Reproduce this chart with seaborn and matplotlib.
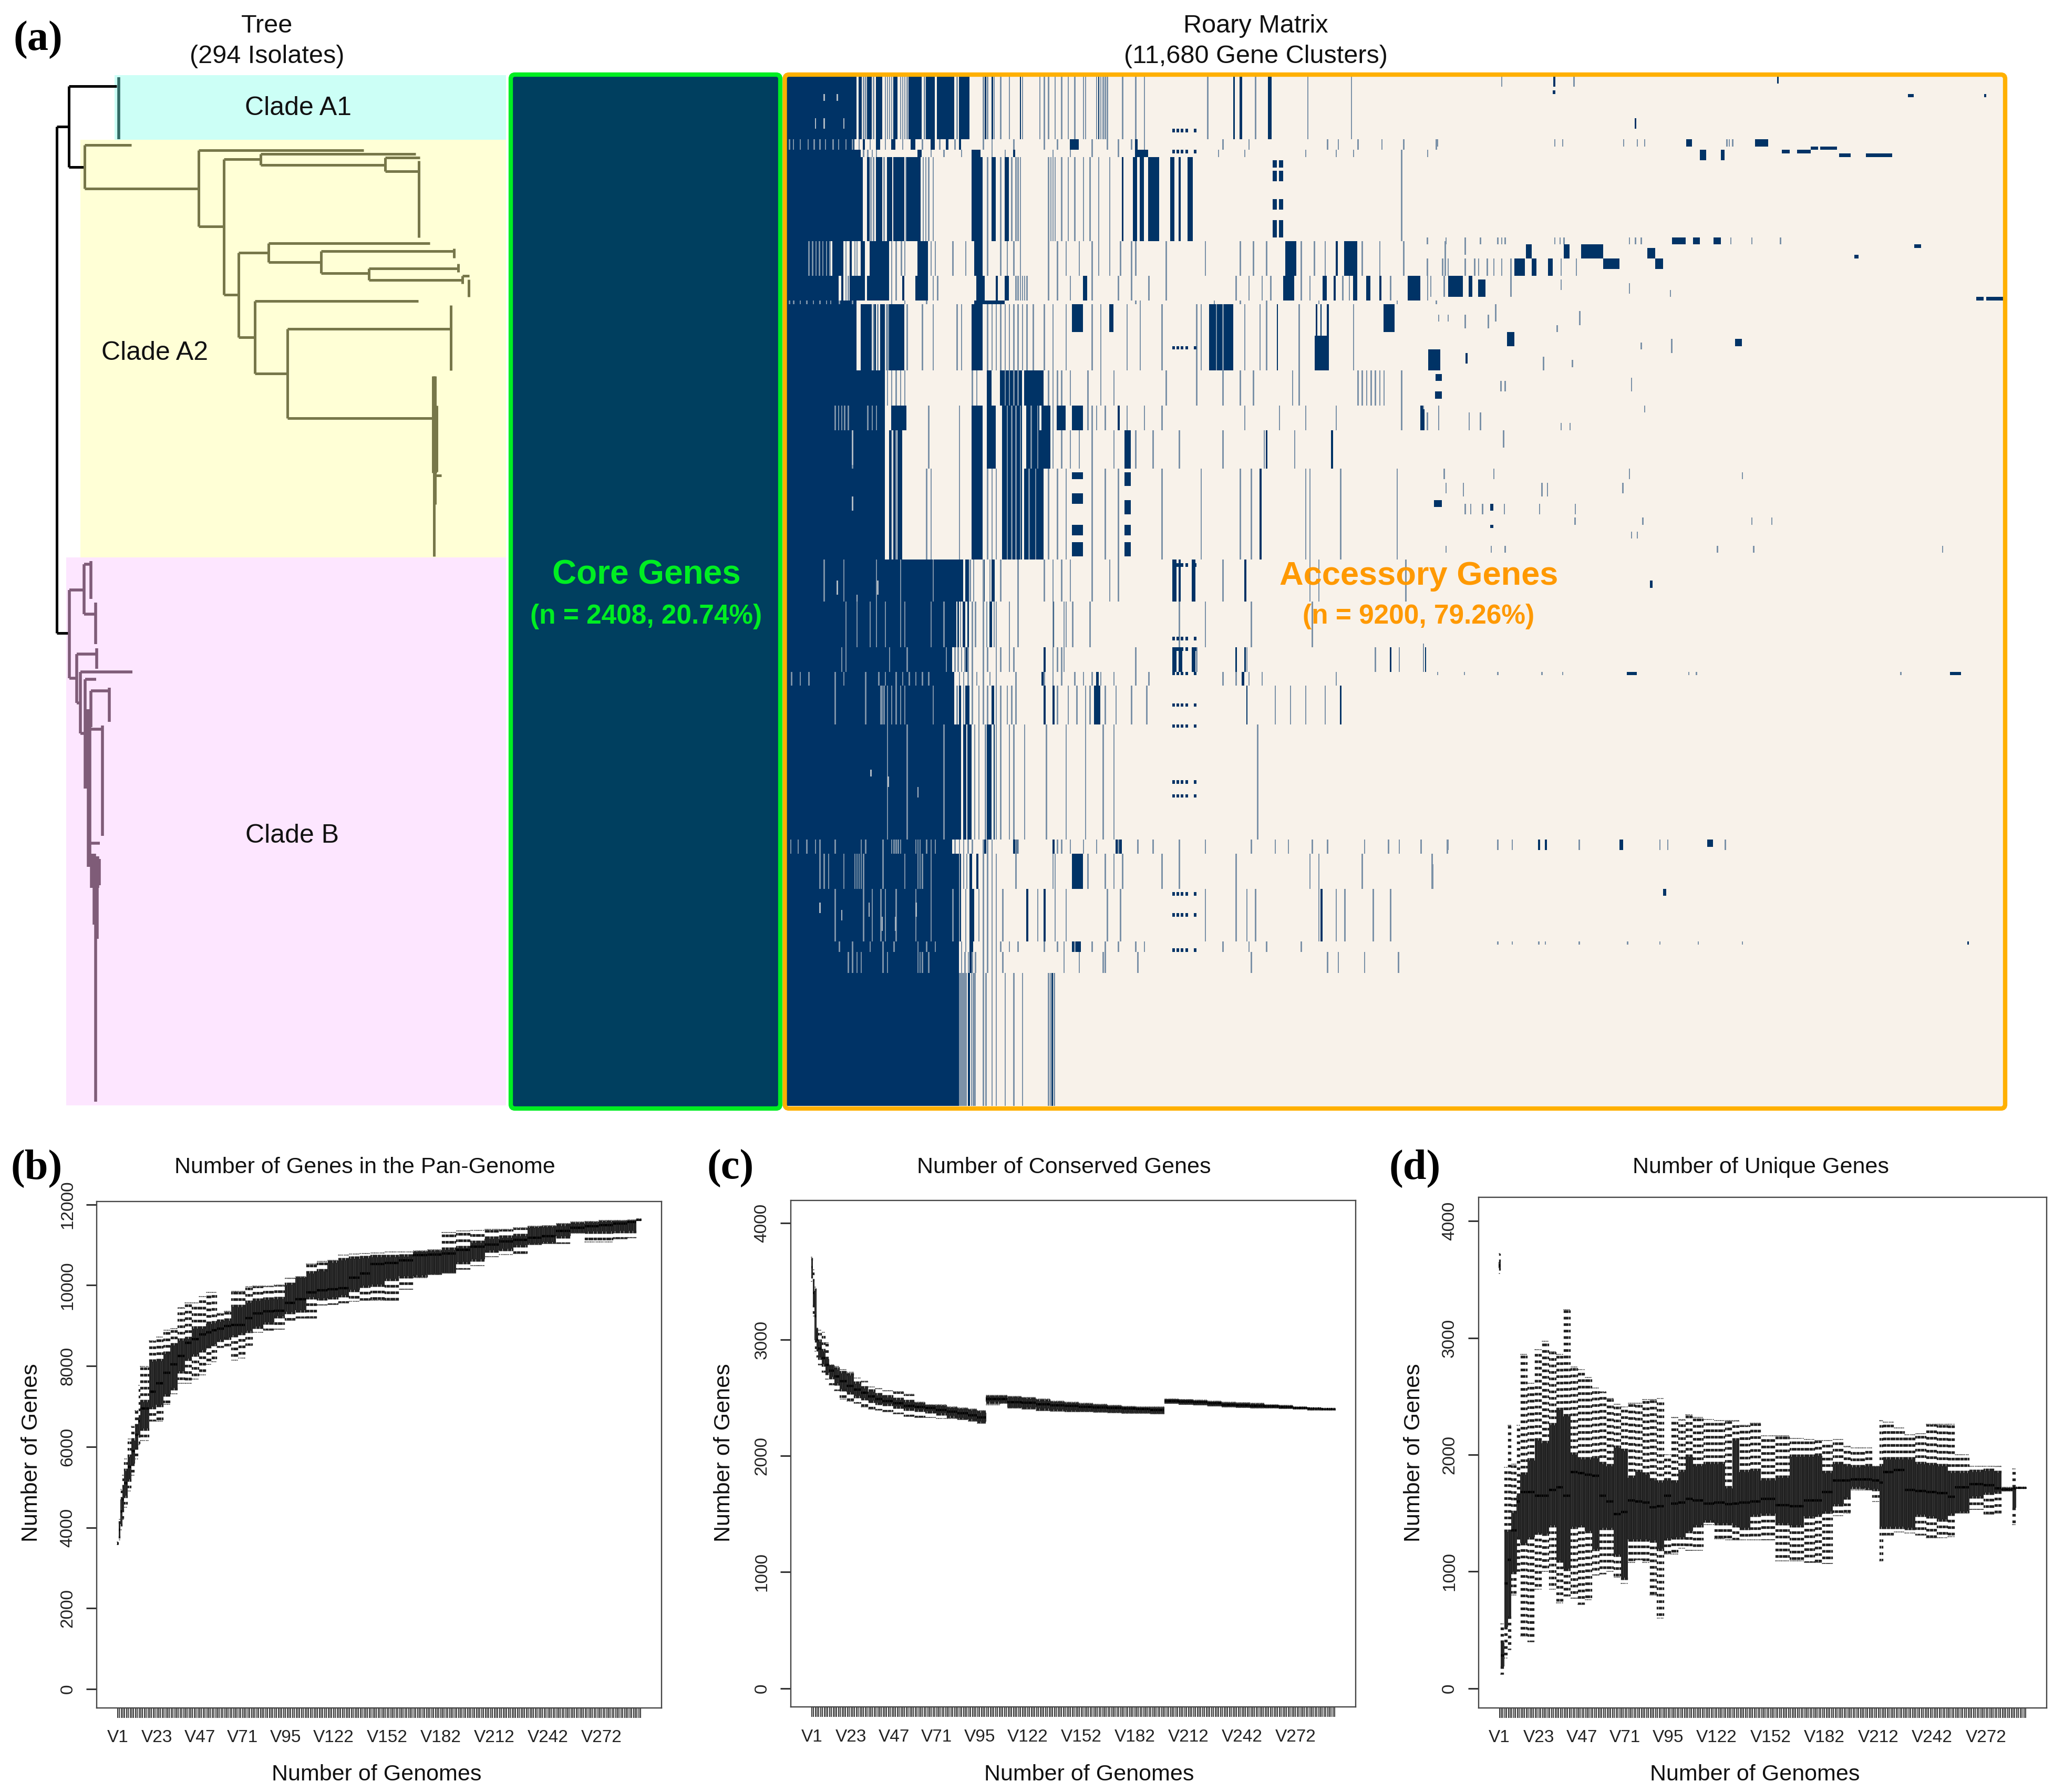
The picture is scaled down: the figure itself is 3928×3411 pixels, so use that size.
import numpy as np
import pandas as pd
import matplotlib
matplotlib.use("Agg")
import matplotlib.pyplot as plt
from matplotlib.colors import LinearSegmentedColormap
from matplotlib.patches import FancyBboxPatch, Rectangle
import seaborn as sns

W, H = 3928, 3411
n_genomes = 294
n_cols = 2792

# ---- roary matrix, read block by block from the picture ----
block_rows = [(0, 18), (18, 21), (21, 23), (23, 47), (47, 57), (57, 64), (64, 65), (65, 84), (84, 94), (94, 101),
              (101, 112), (112, 138), (138, 150), (150, 163), (163, 170), (170, 174), (174, 185), (185, 218),
              (218, 222), (222, 232), (232, 247), (247, 250), (250, 256), (256, 294)]
block_solid = [160, 155, 170, 175, 100, 120, 160, 160, 225, 225, 225, 225, 405, 390, 380, 385, 385, 400, 380, 400, 400, 395, 395, 395]
block_dark = [
    [(165, 172), (185, 195), (205, 220), (245, 255), (280, 310), (320, 340), (345, 385), (395, 420), (455, 458), (470, 474), (535, 538), (715, 718), (1025, 1029), (1040, 1046), (1105, 1113)],
    [(175, 180), (205, 215), (240, 250), (285, 295), (330, 340), (365, 372), (395, 400), (650, 670), (800, 806)],
    [(300, 310), (425, 445), (520, 525), (800, 830)],
    [(185, 190), (205, 220), (230, 242), (245, 270), (275, 308), (425, 450), (470, 480), (500, 510), (770, 773), (795, 805), (810, 820), (830, 855), (880, 890), (900, 905), (920, 932)],
    [(105, 130), (145, 150), (170, 180), (190, 235), (300, 325), (430, 450), (1145, 1170), (1260, 1265), (1280, 1310)],
    [(125, 130), (145, 180), (185, 235), (265, 270), (295, 325), (435, 455), (480, 485), (500, 510), (680, 690), (1140, 1165), (1230, 1240), (1255, 1260), (1300, 1310), (1330, 1340), (1360, 1365), (1425, 1455)],
    [(430, 500)],
    [(170, 195), (200, 205), (215, 225), (235, 270), (425, 450), (970, 1025), (1125, 1128), (1215, 1218), (1225, 1228), (1240, 1245)],
    [(460, 470), (490, 540), (545, 590)],
    [(240, 275), (425, 450), (460, 480), (495, 540), (550, 580), (585, 605), (620, 640), (655, 680), (760, 765), (1455, 1460)],
    [(235, 240), (245, 250), (255, 265), (425, 450), (460, 480), (495, 540), (550, 605), (775, 790), (1100, 1104), (1250, 1254)],
    [(235, 240), (245, 250), (255, 265), (425, 450), (495, 540), (545, 590), (1085, 1090)],
    [(410, 418), (450, 455), (470, 477), (885, 895), (900, 905), (930, 938), (1050, 1055)],
    [(392, 396), (404, 410), (415, 418), (450, 454), (465, 472), (610, 614)],
    [(410, 418), (590, 594), (885, 895), (900, 908), (930, 938), (1030, 1034), (1050, 1054), (1385, 1388), (1465, 1468)],
    [(585, 590), (710, 716), (1030, 1034), (1045, 1050)],
    [(395, 400), (410, 420), (470, 476), (590, 595), (610, 615), (705, 720), (1055, 1058), (1270, 1274)],
    [(405, 412), (415, 425), (460, 470), (475, 478)],
    [(452, 458), (520, 530), (610, 615), (755, 770)],
    [(420, 426), (435, 440), (655, 680)],
    [(420, 430), (550, 555), (590, 595), (1225, 1230)],
    [(655, 675), (420, 428)],
    [(420, 425)],
    [(416, 421), (608, 611)],
]
block_pale = [
    [175, 180, 198, 225, 230, 235, 240, 260, 265, 270, 275, 315, 390, 450, 460, 475, 490, 510, 540, 580, 590, 600, 615, 630, 645, 660, 680, 685, 710, 720, 725, 730, 735, 770, 800, 820, 965, 1075, 1195, 1295],
    [5, 14, 30, 48, 62, 75, 88, 105, 118, 135, 150, 165, 190, 225, 265, 310, 350, 385, 450, 470, 520, 590, 620, 700, 735, 760, 790, 820, 1000, 1060, 1240, 1265, 1310, 1365, 1415, 1490],
    [175, 185, 195, 205, 330, 360, 400, 470, 500, 610, 650, 700, 760, 990, 1050, 1190, 1260, 1300, 1410, 1470],
    [192, 198, 222, 272, 312, 318, 325, 335, 460, 490, 515, 525, 530, 535, 600, 605, 610, 615, 630, 645, 660, 680, 695, 715, 740, 1410],
    [50, 58, 66, 74, 82, 90, 98, 135, 155, 160, 240, 250, 262, 270, 330, 340, 380, 410, 460, 490, 505, 520, 535, 600, 620, 640, 670, 700, 715, 740, 765, 790, 800, 870, 960, 1040, 1070, 1100, 1180, 1210, 1235, 1320, 1360, 1415, 1510],
    [135, 140, 240, 250, 335, 345, 525, 530, 535, 540, 545, 550, 600, 620, 650, 700, 760, 790, 830, 870, 1030, 1060, 1090, 1110, 1180, 1200, 1275, 1290, 1385, 1470],
    [5, 15, 30, 45, 60, 75, 90, 100, 120, 150, 240, 270, 320, 800, 810, 980, 1040, 1100, 1220, 1400, 1490],
    [198, 208, 228, 232, 275, 310, 335, 390, 400, 460, 470, 480, 490, 500, 510, 520, 530, 540, 550, 565, 590, 610, 640, 700, 720, 780, 810, 860, 940, 950, 985, 1000, 1050, 1085, 1100, 1175, 1300],
    [230, 240, 250, 260, 270, 425, 435, 500, 510, 520, 530, 600, 610, 620, 630, 650, 690, 720, 750, 870, 940, 1000, 1040, 1070, 1160, 1175, 1310, 1320, 1330, 1340, 1350, 1360, 1370, 1410],
    [110, 118, 125, 132, 140, 185, 195, 205, 325, 395, 505, 515, 525, 535, 560, 575, 610, 690, 700, 710, 730, 780, 820, 860, 1050, 1130, 1190, 1260, 1410, 1460, 1495],
    [150, 240, 250, 325, 395, 505, 515, 525, 535, 560, 575, 610, 630, 650, 670, 700, 750, 800, 840, 900, 1000, 1095, 1165],
    [240, 250, 320, 330, 395, 460, 470, 480, 505, 515, 525, 535, 555, 570, 600, 620, 640, 700, 730, 760, 860, 950, 1040, 1065, 1190, 1200, 1270, 1400],
    [85, 130, 205, 260, 335, 420, 428, 450, 465, 490, 530, 590, 610, 630, 650, 700, 740, 760, 1000, 1200, 1220, 1420],
    [135, 160, 190, 205, 225, 260, 270, 330, 360, 398, 425, 432, 450, 458, 475, 480, 510, 530, 610, 635, 640, 655, 695, 900, 960, 1065, 1205],
    [125, 135, 235, 275, 365, 385, 392, 400, 408, 415, 425, 450, 460, 480, 490, 510, 520, 610, 620, 630, 635, 800, 940, 1055, 1350, 1405],
    [10, 30, 50, 110, 130, 180, 210, 225, 250, 265, 280, 295, 310, 325, 395, 405, 415, 425, 435, 450, 465, 480, 525, 590, 610, 630, 660, 680, 700, 720, 750, 800, 830, 1000, 1030, 1060, 1090, 1260],
    [110, 180, 215, 218, 222, 230, 240, 250, 260, 270, 335, 390, 405, 425, 440, 450, 460, 480, 490, 505, 515, 525, 620, 645, 665, 685, 695, 730, 755, 790, 825, 1120, 1155, 1190, 1235],
    [230, 275, 360, 430, 440, 455, 480, 490, 510, 520, 545, 595, 640, 685, 725, 750, 1080],
    [8, 25, 45, 65, 75, 110, 170, 180, 220, 240, 245, 250, 255, 260, 295, 300, 305, 320, 330, 340, 385, 395, 405, 415, 425, 450, 460, 470, 525, 530, 620, 630, 650, 680, 710, 760, 805, 840, 900, 960, 1065, 1120, 1150, 1205, 1240, 1325, 1380, 1405, 1455, 1515],
    [75, 85, 95, 130, 155, 160, 165, 170, 175, 220, 270, 300, 305, 310, 330, 395, 405, 412, 450, 460, 470, 480, 525, 610, 615, 690, 730, 750, 770, 860, 900, 1030, 1200, 1220, 1320, 1480],
    [110, 175, 195, 215, 225, 250, 295, 330, 380, 395, 410, 440, 450, 460, 470, 480, 495, 575, 615, 640, 735, 765, 960, 1030, 1055, 1075, 1220, 1260, 1280, 1345, 1385],
    [120, 150, 190, 220, 245, 300, 320, 340, 400, 410, 450, 460, 470, 480, 490, 510, 530, 590, 620, 635, 660, 700, 730, 760, 800, 820, 1000, 1060, 1100, 1180],
    [140, 150, 160, 170, 220, 230, 300, 305, 310, 325, 400, 408, 416, 425, 432, 450, 460, 470, 480, 495, 635, 670, 725, 730, 805, 1065, 1240, 1265, 1325, 1403],
    [396, 399, 402, 405, 408, 411, 423, 427, 431, 450, 456, 470, 480, 500, 520, 540, 600, 604, 613],
]
# partial dark patches: col0, col1, row0, row1
dark_patches = [
    (1115, 1125, 24, 26), (1130, 1140, 24, 26), (1115, 1125, 27, 30), (1130, 1140, 27, 30), (1115, 1125, 35, 38),
    (1130, 1140, 35, 38), (1115, 1125, 41, 46), (1130, 1140, 41, 46), (655, 680, 65, 73), (740, 750, 65, 73),
    (1370, 1395, 65, 73), (1475, 1500, 78, 84), (1212, 1240, 74, 84), (1760, 1764, 0, 3), (1758, 1764, 4, 5),
    (2273, 2277, 0, 2), (2574, 2587, 5, 6), (2749, 2754, 5, 6), (1946, 1950, 12, 15), (2065, 2078, 18, 20),
    (2223, 2253, 18, 20), (2096, 2110, 21, 24), (2144, 2153, 21, 24), (2284, 2302, 21, 22), (2319, 2350, 21, 22),
    (2350, 2367, 20, 21), (2372, 2411, 20, 21), (2416, 2442, 22, 23), (2477, 2538, 22, 23), (2032, 2063, 46, 48),
    (2081, 2096, 46, 48), (2128, 2144, 46, 48), (1697, 1710, 48, 52), (1784, 1797, 48, 52), (1824, 1874, 48, 52),
    (1670, 1695, 52, 57), (1710, 1721, 52, 57), (1747, 1758, 52, 57), (1874, 1912, 52, 55), (1975, 1993, 49, 52),
    (1993, 2012, 52, 55), (1519, 1552, 57, 63), (1565, 1574, 57, 63), (1587, 1604, 58, 63), (2588, 2604, 48, 49),
    (2451, 2460, 51, 52), (2731, 2747, 63, 64), (2753, 2792, 63, 64), (1653, 1670, 73, 77), (2177, 2192, 75, 77),
    (1473, 1490, 78, 84), (1558, 1563, 79, 82), (1490, 1504, 85, 87), (1488, 1504, 90, 92), (1458, 1464, 95, 101),
    (1486, 1504, 121, 123), (1615, 1622, 122, 124), (1615, 1622, 128, 129), (1982, 1988, 144, 146),
    (1929, 1951, 170, 171), (2670, 2696, 170, 171), (1911, 1920, 218, 221), (2113, 2126, 218, 220),
    (2012, 2019, 232, 234), (2710, 2714, 247, 248), (1725, 1730, 218, 221), (1740, 1745, 218, 221),
    (655, 680, 113, 115), (655, 680, 119, 122), (655, 680, 128, 131), (655, 680, 133, 137),
    (775, 790, 113, 117), (775, 790, 121, 125), (775, 790, 128, 131), (775, 790, 133, 137),
]
# small gaps inside the solid left area: col, row0, row1
solid_gaps = [(85, 5, 7), (115, 5, 7), (65, 12, 15), (85, 12, 15), (130, 12, 15), (150, 101, 111), (150, 120, 124),
              (115, 144, 148), (208, 144, 148), (160, 148, 150), (192, 198, 200), (232, 200, 203), (300, 203, 206),
              (75, 236, 239), (125, 238, 241), (188, 236, 240), (218, 240, 244), (248, 240, 244), (296, 236, 240)]
# thin pale stripes on the right side: (row0, row1), columns
right_bands = [
    ((0, 3), [1640, 1806]), ((18, 20), [1492, 1762, 1780, 1920, 1951, 1968, 2157, 2162, 2170]),
    ((46, 48), [1469, 1512, 1591, 1631, 1640, 1648, 1762, 1774, 1783, 1933, 1947, 1960, 2166, 2214, 2280]),
    ((46, 51), [1556]),
    ((52, 57), [1469, 1504, 1517, 1556, 1578, 1587, 1607, 1622, 1640, 1661, 1776, 1811]),
    ((57, 63), [1477, 1508, 1661]), ((58, 61), [1776]), ((59, 62), [1933]), ((61, 63), [2027]),
    ((65, 70), [1626]), ((68, 70), [1517, 1495]), ((68, 72), [1556, 1609]), ((71, 73), [1767]), ((67, 71), [1819]),
    ((76, 78), [1960]), ((75, 79), [2030]), ((80, 84), [1736]), ((81, 83), [1802]), ((87, 90), [1638, 1648]),
    ((86, 90), [1938]), ((94, 96), [1968]), ((96, 101), [1565, 1591, 1469]), ((99, 101), [1776, 1797]),
    ((101, 106), [1644]), ((112, 115), [1508, 1622, 1933]), ((116, 120), [1552, 1732, 1745]), ((116, 119), [1512, 1918]),
    ((113, 115), [2192]), ((122, 125), [1556, 1569, 1596, 1646, 1727, 1809]), ((126, 128), [1808, 1964, 2214, 2260]),
    ((130, 132), [1938, 1951]), ((134, 136), [1512, 1616, 1648, 2135, 2218, 2652]),
    ((162, 170), [1460]), ((225, 232), [1482]),
    ((170, 171), [1493, 1554, 1631, 1732, 1780, 2069, 2087, 2556]),
    ((218, 221), [1455, 1517, 1631, 1664, 1818, 2003, 2021, 2153]),
    ((247, 248), [1631, 1664, 1725, 1740, 1818, 1929, 2003, 2091, 2192]),
]
dotted_rows = [15, 21, 77, 139, 160, 163, 170, 179, 185, 201, 205, 233, 239, 249]
dotted_cols = [885, 895, 905, 915, 935]

# ---- pan-genome box stats, read at the genome index in *_starts ----
pan_starts = [0, 1, 2, 3, 4, 6, 8, 10, 12, 13, 18, 22, 26, 30, 34, 38, 42, 46, 50, 53, 56, 60, 64, 68, 72, 76, 82, 88, 94, 100, 106, 112, 118, 124, 130, 136, 142, 150, 158, 166, 174, 182, 190, 198, 206, 214, 222, 230, 238, 246, 254, 262, 270, 278, 286, 291]
pan_lo = [3580, 3700, 3950, 4200, 4500, 4900, 5300, 5700, 6050, 6150, 6630, 6630, 7050, 7310, 7570, 7570, 7680, 7780, 8040, 8100, 8460, 8490, 8150, 8200, 8510, 8830, 8880, 8910, 9140, 9190, 9190, 9510, 9530, 9560, 9600, 9630, 9630, 9630, 9900, 10190, 10270, 10300, 10400, 10480, 10710, 10760, 10790, 11000, 11030, 11030, 11290, 11070, 11070, 11150, 11170, 11600]
pan_q1 = [3590, 3800, 4100, 4450, 4800, 5200, 5600, 6000, 6300, 6470, 7000, 7050, 7310, 7470, 7890, 8200, 8300, 8410, 8510, 8560, 8670, 8720, 8780, 8830, 8880, 8985, 9090, 9250, 9350, 9400, 9720, 9690, 9720, 9770, 9900, 10000, 10030, 10170, 10240, 10260, 10290, 10310, 10590, 10660, 10870, 10920, 11000, 11050, 11080, 11230, 11310, 11340, 11340, 11360, 11360, 11610]
pan_med = [3600, 3950, 4400, 4700, 5100, 5500, 5900, 6300, 6630, 6950, 7360, 7570, 7830, 8040, 8250, 8570, 8670, 8780, 8830, 8880, 8930, 8985, 9020, 9020, 9190, 9300, 9350, 9370, 9560, 9660, 9820, 9870, 9900, 9930, 10190, 10290, 10520, 10550, 10610, 10750, 10760, 10790, 10870, 10950, 11000, 11080, 11130, 11170, 11210, 11340, 11420, 11460, 11490, 11530, 11570, 11620]
pan_q3 = [3620, 4100, 4700, 5000, 5400, 5750, 6150, 6500, 6730, 7100, 8100, 8120, 8300, 8510, 8620, 8670, 8930, 8930, 9040, 9060, 9090, 9120, 9460, 9460, 9560, 9610, 9640, 9660, 10000, 10190, 10290, 10340, 10550, 10610, 10650, 10670, 10690, 10690, 10710, 10820, 10840, 10870, 10920, 11050, 11150, 11180, 11210, 11420, 11440, 11460, 11530, 11550, 11570, 11590, 11610, 11630]
pan_hi = [3640, 4200, 4950, 5300, 5700, 6200, 6500, 6900, 7520, 7990, 8620, 8720, 8880, 8930, 9450, 9560, 9560, 9720, 9820, 9820, 9300, 9350, 9850, 9850, 9960, 9980, 9980, 10000, 10170, 10210, 10520, 10590, 10610, 10740, 10770, 10790, 10800, 10820, 10820, 10850, 10870, 11310, 11340, 11360, 11380, 11390, 11420, 11460, 11480, 11530, 11560, 11580, 11600, 11610, 11620, 11640]

core_starts = [0, 1, 2, 3, 4, 6, 8, 10, 13, 16, 20, 24, 28, 32, 36, 40, 46, 52, 58, 64, 70, 76, 82, 88, 93, 98, 106, 110, 118, 126, 134, 142, 150, 158, 166, 174, 182, 190, 198, 206, 214, 222, 230, 238, 246, 254, 262, 270, 278, 286]
core_lo = [3500, 3200, 2900, 2850, 2780, 2720, 2660, 2610, 2560, 2490, 2470, 2450, 2420, 2400, 2395, 2380, 2360, 2340, 2330, 2330, 2320, 2320, 2310, 2300, 2280, 2440, 2450, 2410, 2400, 2390, 2385, 2380, 2380, 2375, 2370, 2365, 2365, 2360, 2450, 2445, 2440, 2430, 2420, 2415, 2410, 2410, 2405, 2400, 2395, 2395]
core_q1 = [3550, 3300, 3000, 2920, 2850, 2790, 2720, 2680, 2630, 2580, 2550, 2520, 2500, 2480, 2460, 2450, 2430, 2410, 2400, 2390, 2370, 2350, 2330, 2320, 2300, 2470, 2460, 2420, 2420, 2410, 2400, 2395, 2390, 2385, 2380, 2375, 2370, 2365, 2450, 2445, 2440, 2430, 2425, 2420, 2415, 2415, 2410, 2405, 2400, 2398]
core_med = [3620, 3400, 3200, 3000, 2920, 2840, 2780, 2730, 2680, 2640, 2600, 2570, 2540, 2510, 2490, 2470, 2450, 2430, 2420, 2410, 2395, 2380, 2365, 2350, 2330, 2490, 2490, 2460, 2455, 2445, 2435, 2430, 2420, 2415, 2410, 2405, 2400, 2395, 2470, 2465, 2460, 2450, 2440, 2435, 2430, 2425, 2420, 2410, 2405, 2400]
core_q3 = [3680, 3500, 3420, 3100, 2980, 2900, 2830, 2780, 2740, 2710, 2690, 2620, 2580, 2550, 2520, 2500, 2480, 2460, 2450, 2440, 2430, 2410, 2400, 2390, 2370, 2510, 2510, 2500, 2490, 2470, 2460, 2450, 2445, 2440, 2430, 2420, 2415, 2415, 2490, 2485, 2475, 2465, 2455, 2450, 2445, 2440, 2430, 2420, 2410, 2405]
core_hi = [3710, 3600, 3450, 3100, 3080, 3060, 2970, 2780, 2770, 2740, 2720, 2670, 2640, 2590, 2580, 2560, 2550, 2530, 2460, 2440, 2440, 2420, 2410, 2400, 2390, 2520, 2520, 2510, 2500, 2490, 2470, 2460, 2450, 2445, 2435, 2425, 2420, 2420, 2490, 2485, 2480, 2470, 2460, 2455, 2450, 2440, 2435, 2420, 2410, 2405]

uniq_starts = [0, 1, 3, 5, 7, 10, 12, 16, 20, 24, 28, 32, 36, 40, 44, 48, 52, 56, 60, 64, 68, 72, 76, 80, 84, 88, 92, 96, 100, 104, 108, 114, 120, 126, 130, 134, 140, 146, 154, 162, 170, 176, 180, 186, 192, 196, 204, 208, 212, 214, 220, 226, 232, 238, 244, 250, 254, 262, 270, 276, 280, 286, 288]
uniq_lo = [3550, 120, 260, 330, 800, 1000, 450, 400, 850, 1000, 850, 730, 790, 770, 720, 760, 970, 980, 1000, 950, 900, 1080, 1100, 1080, 800, 600, 1150, 1150, 1200, 1180, 1180, 1400, 1280, 1270, 1270, 1270, 1270, 1270, 1090, 1090, 1080, 1080, 1070, 1480, 1500, 1700, 1700, 1600, 1090, 1310, 1340, 1330, 1310, 1290, 1290, 1300, 1500, 1530, 1490, 1500, 1690, 1400, 1710]
uniq_q1 = [3600, 190, 530, 620, 1000, 1300, 1250, 1300, 1340, 1330, 1400, 1100, 1030, 1390, 1400, 1350, 1200, 1380, 1380, 1150, 950, 1280, 1280, 1280, 1270, 1200, 1290, 1300, 1300, 1350, 1400, 1440, 1420, 1420, 1400, 1380, 1490, 1500, 1420, 1400, 1480, 1490, 1520, 1580, 1640, 1730, 1720, 1710, 1390, 1390, 1390, 1380, 1490, 1480, 1450, 1500, 1520, 1650, 1680, 1690, 1700, 1550, 1710]
uniq_med = [3620, 280, 900, 1100, 1350, 1600, 1680, 1680, 1650, 1650, 1700, 1720, 1650, 1850, 1840, 1830, 1820, 1650, 1600, 1490, 1510, 1610, 1600, 1590, 1550, 1560, 1650, 1580, 1590, 1620, 1610, 1580, 1590, 1575, 1580, 1590, 1600, 1620, 1570, 1560, 1610, 1610, 1680, 1780, 1780, 1790, 1790, 1780, 1760, 1850, 1870, 1700, 1690, 1680, 1670, 1640, 1720, 1750, 1740, 1710, 1705, 1710, 1715]
uniq_q3 = [3650, 390, 1340, 1340, 1500, 1650, 1830, 1950, 2120, 2100, 2250, 2380, 2330, 2000, 1960, 1960, 1970, 1920, 1900, 2060, 2030, 1800, 1850, 1830, 1780, 1760, 1780, 1760, 1850, 1980, 1900, 1920, 1920, 1710, 2120, 1850, 1860, 1780, 1800, 1980, 1980, 1990, 1840, 1920, 1900, 1890, 1900, 1900, 1900, 1960, 1960, 1960, 1920, 1910, 1900, 1840, 1840, 1850, 1860, 1840, 1710, 1720, 1720]
uniq_hi = [3720, 550, 1890, 2250, 1920, 2250, 2860, 2610, 2900, 2970, 2880, 2860, 3240, 2750, 2730, 2660, 2570, 2540, 2480, 2430, 2410, 2440, 2440, 2470, 2470, 2480, 2000, 2320, 2300, 2340, 2320, 2300, 2290, 2290, 2290, 2250, 2270, 2160, 2160, 2140, 2130, 2120, 2120, 2130, 2070, 2060, 2060, 1900, 2290, 2280, 2230, 2170, 2180, 2260, 2260, 2260, 2000, 1900, 1900, 1900, 1720, 1880, 1720]

genome_tick_idx = [0, 22, 46, 70, 94, 121, 151, 181, 211, 241, 271]
genome_tick_labels = ["V1", "V23", "V47", "V71", "V95", "V122", "V152", "V182", "V212", "V242", "V272"]

# ---- tree branches, x and y on the panel's own scale: x, y0, y1 / y, x0, x1 ----
a2_vert = [(161, 276, 359), (378, 286, 431), (426, 303, 561), (496, 293, 314), (733, 300, 326), (797, 306, 452),
           (454, 481, 642), (511, 463, 499), (611, 478, 520), (864, 473, 491), (702, 511, 533), (872, 502, 518),
           (880, 525, 540), (892, 532, 565), (485, 573, 711), (547, 626, 796), (858, 581, 705), (826, 716, 1059),
           (831, 772, 898), (828, 716, 960), (824, 716, 900), (829, 772, 900)]
a2_horz = [(276, 161, 250), (359, 161, 376), (286, 378, 692), (431, 378, 426), (303, 426, 496), (293, 496, 791),
           (314, 496, 733), (300, 733, 799), (326, 733, 796), (561, 426, 454), (481, 454, 511), (463, 511, 818),
           (499, 511, 611), (478, 611, 864), (520, 611, 702), (511, 702, 872), (533, 702, 880), (525, 880, 893),
           (642, 454, 485), (573, 485, 796), (711, 485, 547), (626, 547, 856), (796, 547, 823), (905, 826, 840)]
b_vert = [(132, 1123, 1291), (160, 1074, 1169), (173, 1068, 1140), (182, 1147, 1226), (146, 1245, 1338),
          (184, 1234, 1273), (153, 1279, 1396), (162, 1293, 1501), (165, 1350, 1501), (168, 1350, 1650),
          (171, 1350, 1650), (173, 1315, 1384), (208, 1309, 1374), (195, 1381, 1591), (182, 1690, 2097),
          (185, 1690, 1787), (179, 1690, 1760), (174, 1625, 1690), (177, 1625, 1690), (180, 1625, 1690),
          (183, 1630, 1690), (186, 1630, 1690), (189, 1635, 1685)]
b_horz = [(1123, 132, 160), (1074, 160, 173), (1169, 160, 182), (1291, 132, 145), (1245, 146, 184), (1338, 146, 153),
          (1279, 153, 252), (1396, 153, 162), (1293, 162, 183), (1315, 173, 208), (1388, 173, 195), (1605, 173, 190)]
root_vert = [(108, 241, 1205), (131, 164, 318)]
root_horz = [(241, 108, 131), (164, 131, 222), (318, 131, 161), (1205, 108, 132)]
a1_vert = [(226, 147, 265)]

# build the matrix
matrix = np.zeros((n_genomes, n_cols))
for (r0, r1), solid, dark, pale in zip(block_rows, block_solid, block_dark, block_pale):
    matrix[r0:r1, :solid] = 1
    for a, b in dark:
        matrix[r0:r1, a:b] = 1
    for c in pale:
        matrix[r0:r1, c:c + 3] = 0.5
for c0, c1, r0, r1 in dark_patches:
    matrix[r0:r1, c0:c1] = 1
for c, r0, r1 in solid_gaps:
    matrix[r0:r1, c:c + 3] = 0.3
for (r0, r1), cols in right_bands:
    for c in cols:
        matrix[r0:r1, c:c + 3] = 0.5
for r in dotted_rows:
    for c in dotted_cols:
        matrix[r:r + 1, c:c + 6] = 1

sns.set_theme(style="white")
plt.rcParams["font.family"] = ["Liberation Sans", "DejaVu Sans"]
fig = plt.figure(figsize=(W / 100, H / 100), dpi=100)


def px_axes(x0, y0, x1, y1, **kw):
    return fig.add_axes([x0 / W, 1 - y1 / H, (x1 - x0) / W, (y1 - y0) / H], **kw)


# matrix
ax_m = px_axes(1497, 145.5, 3812, 2105)
cmap = LinearSegmentedColormap.from_list("roary", ["#F8F2EA", "#003366"])
sns.heatmap(matrix, cmap=cmap, vmin=0, vmax=1, cbar=False, xticklabels=False, yticklabels=False, ax=ax_m, rasterized=True)

# everything drawn on the page scale
canvas = px_axes(0, 0, W, H, zorder=5)
canvas.set_xlim(0, W)
canvas.set_ylim(H, 0)
canvas.axis("off")
canvas.patch.set_alpha(0)

for (x0, y0, x1, y1), col in [((218, 143, 963, 266), "#CCFFF6"), ((153, 266, 963, 1061), "#FFFFD6"), ((126, 1061, 963, 2104), "#FDE6FF")]:
    canvas.add_patch(Rectangle((x0, y0), x1 - x0, y1 - y0, fc=col, ec="none", zorder=1))


def draw_branches(vert, horz, color, lw):
    canvas.vlines([v[0] for v in vert], [v[1] for v in vert], [v[2] for v in vert], color=color, lw=lw, zorder=3)
    canvas.hlines([h[0] for h in horz], [h[1] for h in horz], [h[2] for h in horz], color=color, lw=lw, zorder=3)


draw_branches(root_vert, root_horz, "black", 3.6)
draw_branches(a1_vert, [], "#336B66", 4.0)
draw_branches(a2_vert, a2_horz, "#77774A", 3.6)
draw_branches(b_vert, b_horz, "#7F5C78", 4.0)

canvas.add_patch(FancyBboxPatch((972, 142), 513, 1968, boxstyle="round,pad=0,rounding_size=8", fc="#003F5F", ec="#00EE22", lw=6, zorder=4))
canvas.add_patch(FancyBboxPatch((1493.5, 142), 2322.5, 1968, boxstyle="round,pad=0,rounding_size=8", fc="none", ec="#FFB000", lw=6, zorder=4))

text_kw = dict(ha="center", va="center", zorder=6)
canvas.text(508, 50, "Tree", fontsize=35, color="#111111", **text_kw)
canvas.text(508, 107, "(294 Isolates)", fontsize=35, color="#111111", **text_kw)
canvas.text(2390, 50, "Roary Matrix", fontsize=35, color="#111111", **text_kw)
canvas.text(2390, 107, "(11,680 Gene Clusters)", fontsize=35, color="#111111", **text_kw)
canvas.text(568, 206, "Clade A1", fontsize=36, color="#111111", **text_kw)
canvas.text(295, 672, "Clade A2", fontsize=36, color="#111111", **text_kw)
canvas.text(556, 1591, "Clade B", fontsize=36, color="#111111", **text_kw)
canvas.text(1230, 1095, "Core Genes", fontsize=46, weight="bold", color="#00EE22", **text_kw)
canvas.text(1230, 1174, "(n = 2408, 20.74%)", fontsize=37, weight="bold", color="#00EE22", **text_kw)
canvas.text(2700, 1096, "Accessory Genes", fontsize=45.5, weight="bold", color="#FF9900", **text_kw)
canvas.text(2700, 1174, "(n = 9200, 79.26%)", fontsize=37, weight="bold", color="#FF9900", **text_kw)
for x, y, s in [(72, 76, "(a)"), (70, 2224, "(b)"), (1390, 2224, "(c)"), (2693, 2224, "(d)")]:
    canvas.text(x, y, s, fontsize=58, family="Liberation Serif", weight="bold", color="black", **text_kw)


def stats_frame(starts, lo, q1, med, q3, hi):
    # each read value holds until the next read genome
    reps = np.diff(starts + [n_genomes])
    rows = []
    for col in (lo, q1, med, q3, hi):
        rows.append(pd.DataFrame({"genome": np.arange(n_genomes), "genes": np.repeat(col, reps)}))
    return pd.concat(rows, ignore_index=True)


def box_panel(box, df, ylim, yticks, title, title_x, xlabel_x, ylabel_x):
    x0, y0, x1, y1 = box
    ax = px_axes(x0, y0, x1, y1)
    sns.boxplot(
        data=df, x="genome", y="genes", order=list(range(n_genomes)), ax=ax, color="#333333", linecolor="#1A1A1A",
        linewidth=0.7, width=0.75, saturation=1, whis=(0, 100), showfliers=False, legend=False,
        whiskerprops={"linestyle": (0, (1.5, 2.2)), "linewidth": 2.4, "color": "#222222"},
        capprops={"linewidth": 1.2, "color": "#444444"},
        medianprops={"linewidth": 3.2, "color": "black"},
    )
    ax.set_xlim(-11.72, 304.72)
    ax.set_ylim(*ylim)
    labels = [""] * n_genomes
    for i, s in zip(genome_tick_idx, genome_tick_labels):
        labels[i] = s
    ax.set_xticks(range(n_genomes))
    ax.set_xticklabels(labels, fontsize=24, color="#222222")
    ax.tick_params(axis="x", length=14, width=1.4, color="#333333", pad=16, bottom=True)
    ax.set_yticks(yticks)
    ax.set_yticklabels([str(v) for v in yticks], rotation=90, va="center", fontsize=24, color="#222222")
    ax.tick_params(axis="y", length=14.4, width=2.2, color="#333333", left=True, pad=14)
    for s in ax.spines.values():
        s.set_linewidth(1.7)
        s.set_color("#444444")
    w, h = x1 - x0, y1 - y0
    ax.set_title(title, fontsize=31, color="#111111", x=(title_x - x0) / w, y=(y1 - 2230) / h, va="center")
    ax.set_xlabel("Number of Genomes", fontsize=31, color="#111111")
    ax.xaxis.set_label_coords((xlabel_x - x0) / w, (y1 - 3378) / h)
    ax.xaxis.label.set_va("center")
    ax.set_ylabel("Number of Genes", fontsize=31, color="#111111")
    ax.yaxis.set_label_coords((ylabel_x - x0) / w, (y1 - 2765) / h)
    ax.yaxis.label.set_va("center")
    return ax


box_panel((184, 2287, 1259, 3250.6), stats_frame(pan_starts, pan_lo, pan_q1, pan_med, pan_q3, pan_hi), (-460, 12073),
          [0, 2000, 4000, 6000, 8000, 10000, 12000], "Number of Genes in the Pan-Genome", 694, 717, 60)
box_panel((1505, 2285, 2580, 3249), stats_frame(core_starts, core_lo, core_q1, core_med, core_q3, core_hi), (-160, 4196),
          [0, 1000, 2000, 3000, 4000], "Number of Conserved Genes", 2025, 2073, 1378)
box_panel((2813.5, 2279, 3895, 3250.6), stats_frame(uniq_starts, uniq_lo, uniq_q1, uniq_med, uniq_q3, uniq_hi), (-166, 4203),
          [0, 1000, 2000, 3000, 4000], "Number of Unique Genes", 3351, 3340, 2691)

fig.savefig("out.png", dpi=100)
